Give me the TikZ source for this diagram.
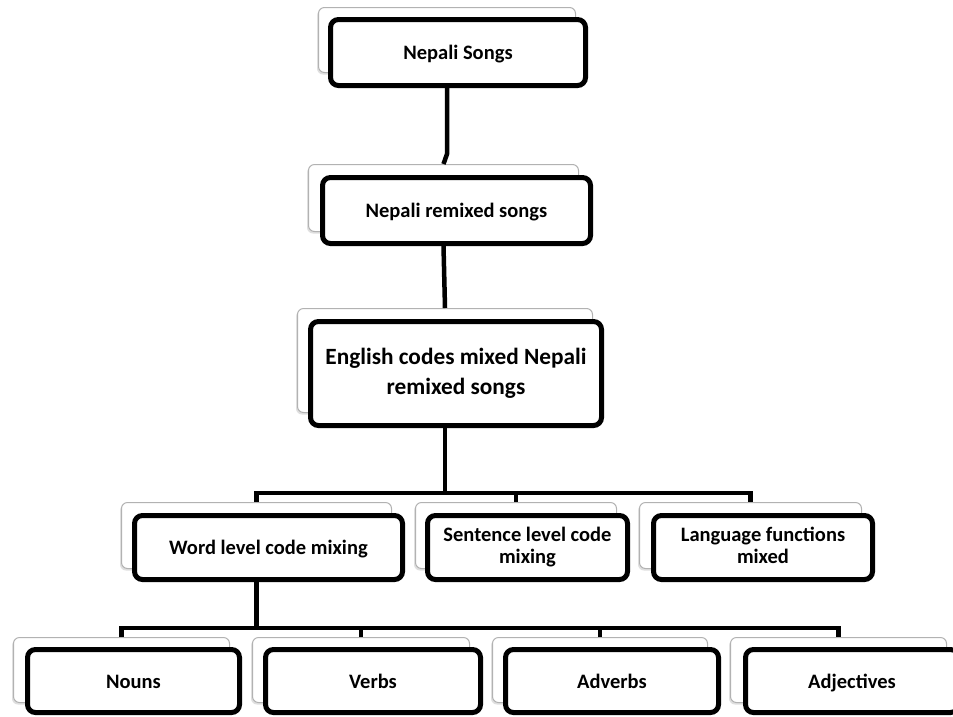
\documentclass[tikz,border=0pt]{standalone}
\usepackage{fontspec}
\setmainfont{Carlito}
\usetikzlibrary{shadows}
\newcommand{\lvlstrut}{\rule[-4pt]{0pt}{22pt}}
\newcommand{\engstrut}{\rule[-5pt]{0pt}{29pt}}

\begin{document}
\begin{tikzpicture}[x=1pt, y=-1pt,
    back/.style={draw=black!30, line width=1pt, fill=white, rounded corners=6pt,
        drop shadow={shadow xshift=-1.5pt, shadow yshift=-2pt, opacity=0.25}},
    front/.style={draw=black, line width=5pt, fill=white, rounded corners=8pt,
        align=center, inner sep=0pt, font=\fontsize{20.5}{21.7}\selectfont\bfseries,
        execute at begin node=\lvlstrut, execute at end node=\lvlstrut},
    link/.style={black, line width=4.5pt}]
    \fill[white] (0,0) rectangle (953,716);
    \clip (0,0) rectangle (953,716);
    % level 1 and 2
    \node[back, minimum width=257, minimum height=65] (songsbg) at (447,40) {};
    \node[front, minimum width=255, minimum height=66] (songs) at (458,52.5) {Nepali Songs};
    \node[back, minimum width=270, minimum height=67] (remixbg) at (443.5,198) {};
    \node[front, minimum width=268, minimum height=66] (remix) at (456.5,210.5) {Nepali remixed songs};
    % level 3
    \node[back, minimum width=295, minimum height=104] (englishbg) at (445,360.5) {};
    \node[front, minimum width=291, minimum height=104,
        font=\fontsize{23.3}{30}\selectfont\bfseries,
        execute at begin node=\engstrut, execute at end node=\engstrut] (english) at (456,373.5)
        {English codes mixed Nepali\\remixed songs};
    % level 4
    \node[back, minimum width=270, minimum height=66] (wordbg) at (256.5,535.5) {};
    \node[front, minimum width=268, minimum height=64] (word) at (268.5,547.5) {Word level code mixing};
    \node[back, minimum width=201, minimum height=66] (sentencebg) at (516,535.5) {};
    \node[front, minimum width=200, minimum height=64] (sentence) at (527.5,547.5) {Sentence level code\\mixing};
    \node[back, minimum width=222, minimum height=66] (languagebg) at (750.5,535.5) {};
    \node[front, minimum width=219, minimum height=64] (language) at (763,547.5) {Language functions\\mixed};
    % level 5
    \node[back, minimum width=216, minimum height=65] (nounsbg) at (121.5,670) {};
    \node[front, minimum width=212, minimum height=63] (nouns) at (133.5,681) {Nouns};
    \node[back, minimum width=217, minimum height=65] (verbsbg) at (361,670) {};
    \node[front, minimum width=215, minimum height=63] (verbs) at (373,681) {Verbs};
    \node[back, minimum width=215, minimum height=65] (adverbsbg) at (600,670) {};
    \node[front, minimum width=213, minimum height=63] (adverbs) at (612,681) {Adverbs};
    \node[back, minimum width=216, minimum height=65] (adjectivesbg) at (838.5,670) {};
    \node[front, minimum width=213, minimum height=63] (adjectives) at (852,681) {Adjectives};
    % connectors
    \draw[link] (songs.south -| songsbg.south) -- ([yshift=10pt]remixbg.north -| songsbg.south) -- (remixbg.north);
    \draw[link] (remix.south -| remixbg.south) -- (englishbg.north);
    \coordinate (bar3) at (0,493);
    \coordinate (bar4) at (0,628);
    \draw[link] (english.south -| englishbg.south) -- (bar3 -| englishbg.south);
    \draw[link] (wordbg.north) -- (bar3 -| wordbg.north) -- (bar3 -| languagebg.north) -- (languagebg.north);
    \draw[link] (sentencebg.north) -- (bar3 -| sentencebg.north);
    \draw[link] (word.south -| wordbg.south) -- (bar4 -| wordbg.south);
    \draw[link] (nounsbg.north) -- (bar4 -| nounsbg.north) -- (bar4 -| adjectivesbg.north) -- (adjectivesbg.north);
    \draw[link] (verbsbg.north) -- (bar4 -| verbsbg.north);
    \draw[link] (adverbsbg.north) -- (bar4 -| adverbsbg.north);
\end{tikzpicture}
\end{document}
